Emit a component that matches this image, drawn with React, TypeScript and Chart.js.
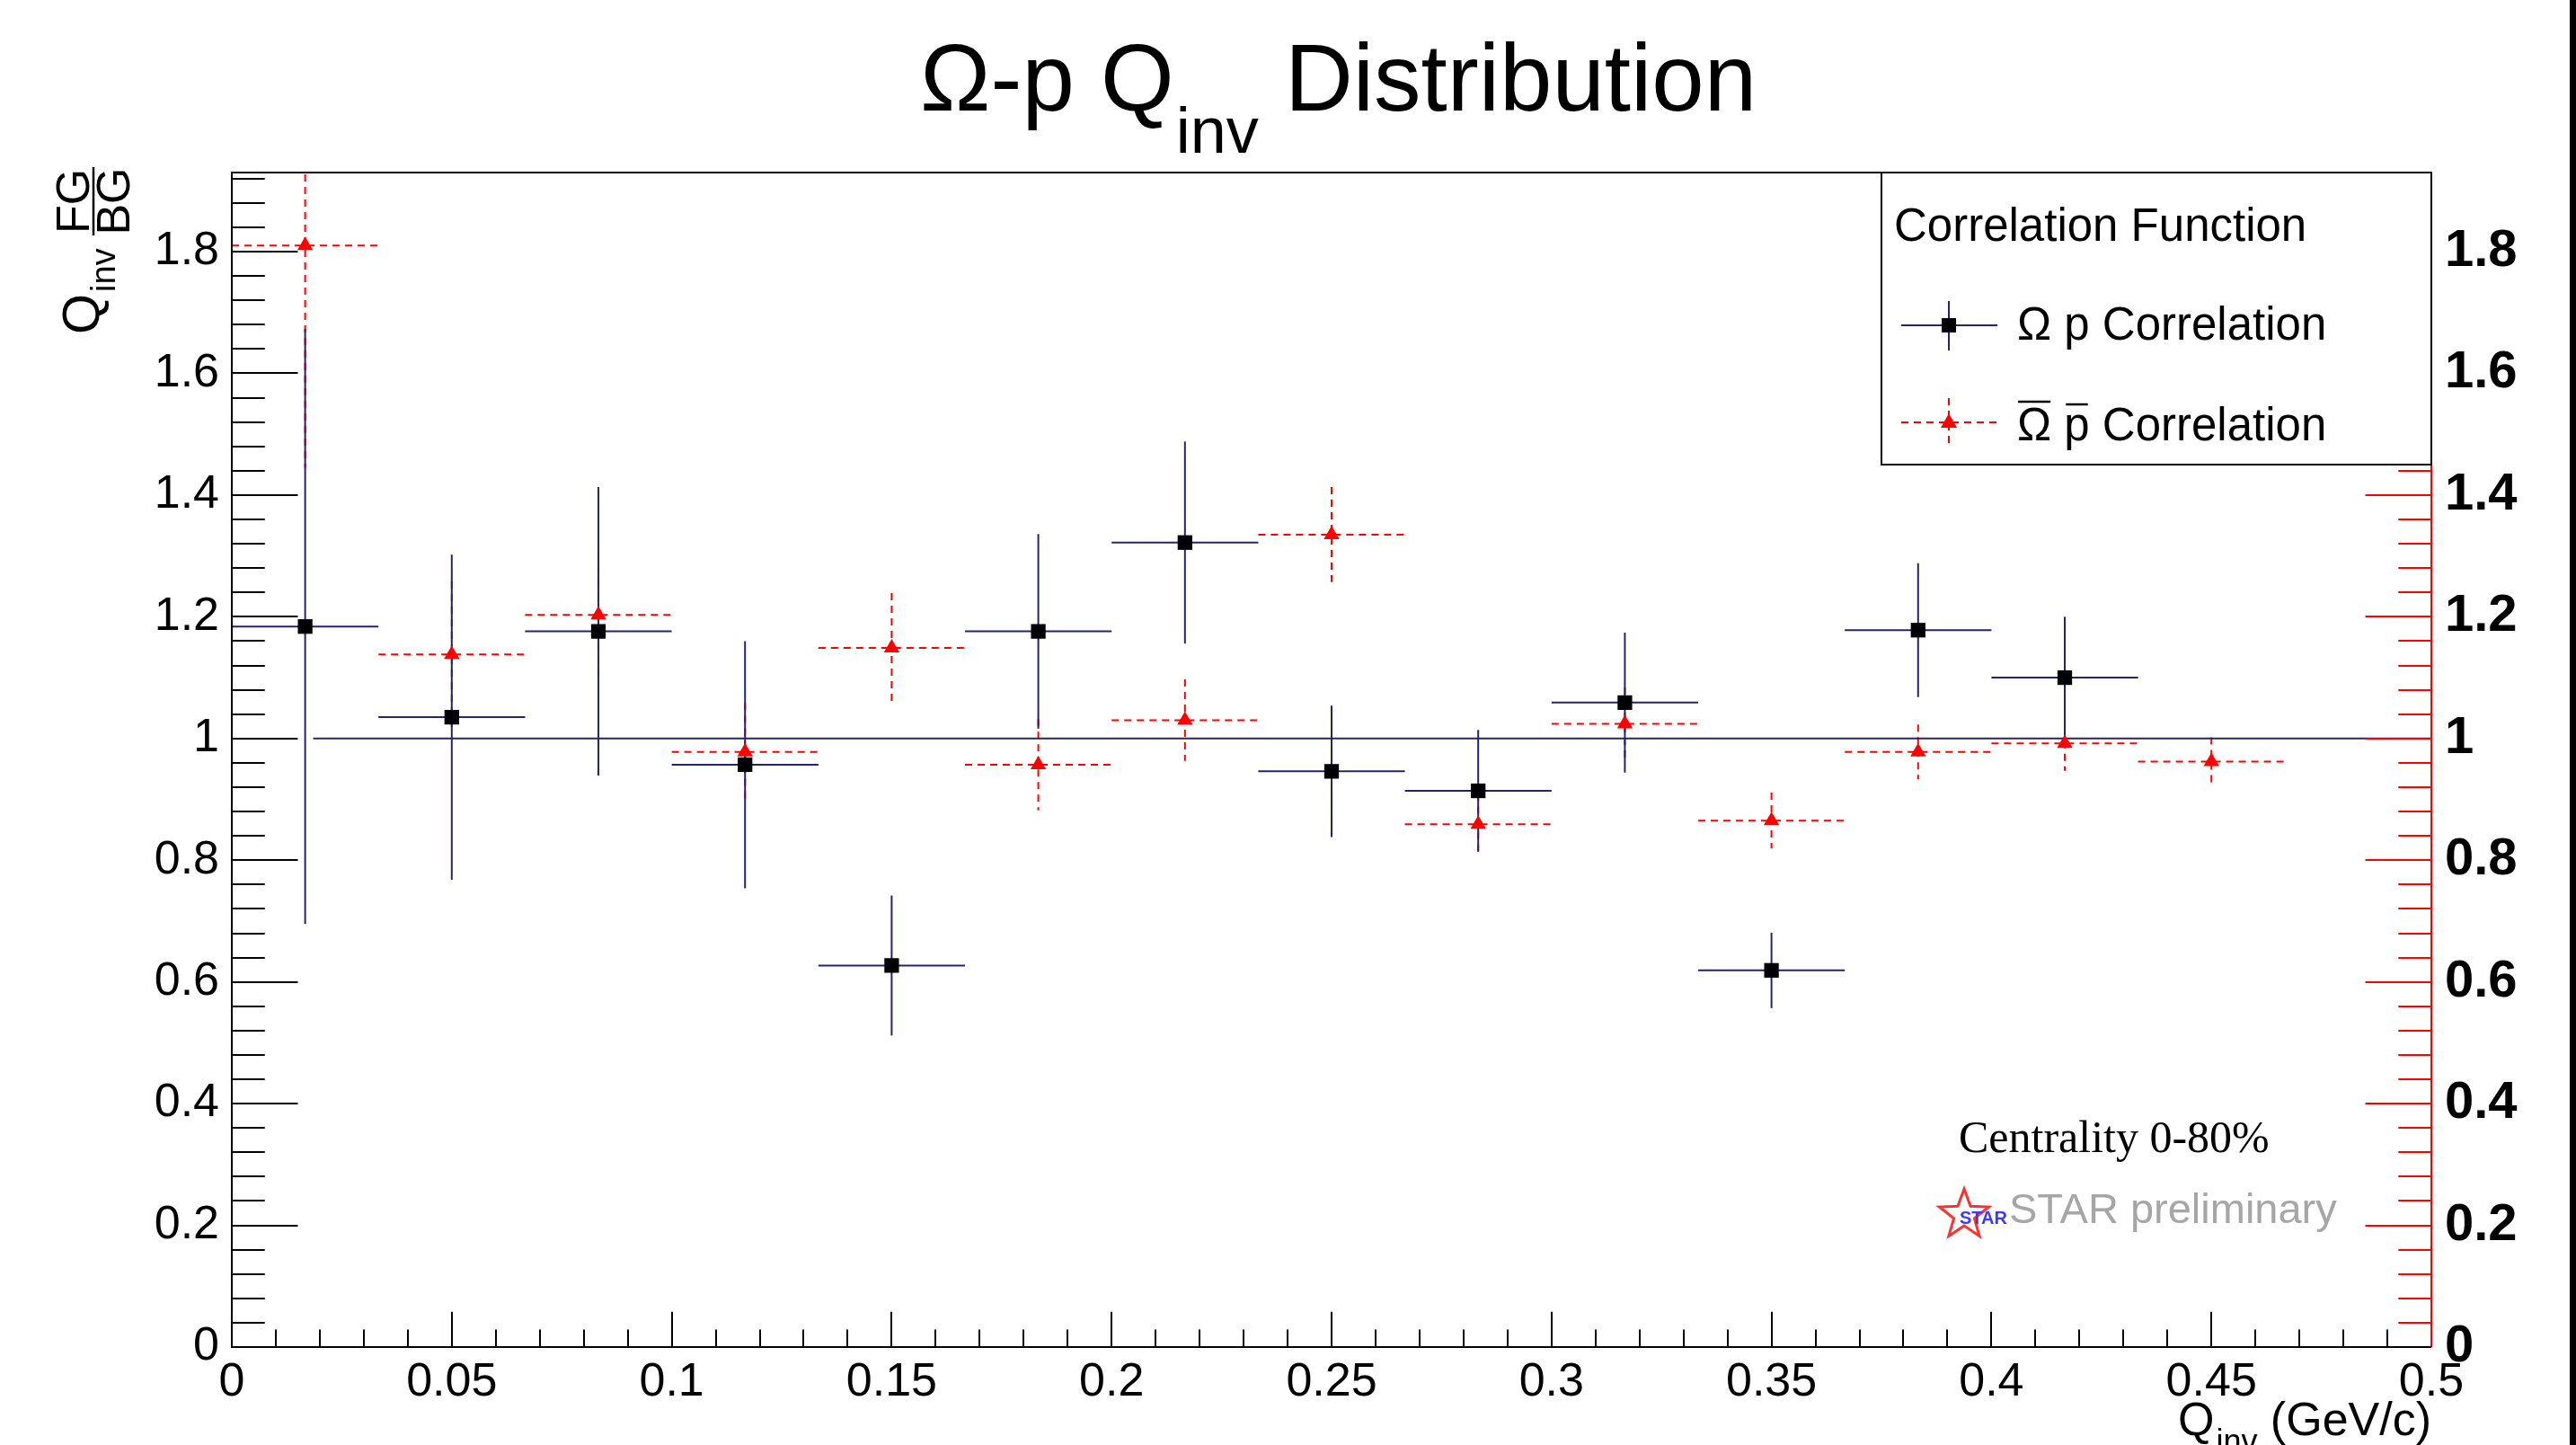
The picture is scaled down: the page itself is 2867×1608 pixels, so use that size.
import React, { useEffect, useRef } from "react";
import { Chart, registerables } from "chart.js";

Chart.register(...registerables);

// ---- data ----
const binCentersOmegaP = [0.01667, 0.05, 0.08333, 0.11667, 0.15, 0.18333, 0.21667, 0.25, 0.28333, 0.31667, 0.35, 0.38333, 0.41667];
const omegaPValues = [1.184, 1.035, 1.176, 0.957, 0.627, 1.176, 1.322, 0.946, 0.914, 1.059, 0.619, 1.178, 1.1];
const omegaPErrors = [0.489, 0.267, 0.237, 0.203, 0.115, 0.16, 0.166, 0.108, 0.1, 0.115, 0.062, 0.11, 0.1];

const binCentersAnti = [0.01667, 0.05, 0.08333, 0.11667, 0.15, 0.18333, 0.21667, 0.25, 0.28333, 0.31667, 0.35, 0.38333, 0.41667, 0.45];
const antiValues = [1.81, 1.138, 1.203, 0.978, 1.149, 0.957, 1.03, 1.335, 0.859, 1.024, 0.865, 0.978, 0.992, 0.962];
const antiErrors = [0.365, 0.12, 0.1, 0.08, 0.09, 0.075, 0.067, 0.078, 0.05, 0.06, 0.046, 0.045, 0.045, 0.04];

const binHalfWidth = 0.016667;
const baselineX = [0.0185, 0.5];
const baselineY = [1, 1];

const xMin = 0, xMax = 0.5, xStep = 0.05, xMinorStep = 0.01;
const yMin = 0, yMax = 1.93, yStep = 0.2, yMinorStep = 0.04;

const NAVY = "#24246e";
const RED = "#ff0000";
const SANS = '"Liberation Sans", Arial, Helvetica, sans-serif';
const SERIF = '"Liberation Serif", "Times New Roman", serif';

const W = 2867, H = 1608;
const PLOT_LEFT = 258, PLOT_RIGHT = 2706, PLOT_TOP = 192, PLOT_BOTTOM = 1499;

const fmt = (v: number) => String(parseFloat(Number(v).toFixed(3)));

const errorBarPlugin = {
  id: "errorBars",
  beforeDatasetsDraw(chart: any) {
    const { ctx, chartArea, scales } = chart;
    const x = scales.x, y = scales.y;
    ctx.save();
    ctx.beginPath();
    ctx.rect(chartArea.left, chartArea.top, chartArea.right - chartArea.left, chartArea.bottom - chartArea.top);
    ctx.clip();
    chart.data.datasets.forEach((ds: any) => {
      if (!ds.errors) return;
      ctx.strokeStyle = ds.errColor;
      ctx.lineWidth = 2;
      ctx.setLineDash(ds.errDash || []);
      ds.data.forEach((p: any, j: number) => {
        const e = ds.errors[j];
        const px = x.getPixelForValue(p.x);
        const py = y.getPixelForValue(p.y);
        const xl = x.getPixelForValue(p.x - binHalfWidth);
        const xr = x.getPixelForValue(p.x + binHalfWidth);
        const yt = y.getPixelForValue(p.y + e);
        const yb = y.getPixelForValue(p.y - e);
        ctx.beginPath();
        ctx.moveTo(xl, py);
        ctx.lineTo(xr, py);
        ctx.stroke();
        ctx.beginPath();
        ctx.moveTo(px, yt);
        ctx.lineTo(px, yb);
        ctx.stroke();
      });
    });
    ctx.restore();
  },
};

const framePlugin = {
  id: "frameDecor",
  afterDatasetsDraw(chart: any) {
    const { ctx, chartArea, scales } = chart;
    const x = scales.x, y = scales.y;
    const { left, right, top, bottom } = chartArea;
    const plotW = right - left, plotH = bottom - top;
    const yMajorLen = 0.03 * plotW, yMinorLen = yMajorLen / 2;
    const xMajorLen = 0.03 * plotH, xMinorLen = xMajorLen / 2;
    ctx.save();
    ctx.lineWidth = 2;
    ctx.setLineDash([]);
    // left ticks
    ctx.strokeStyle = "#000";
    const nY = Math.round((yMax - yMin) / yMinorStep);
    for (let i = 0; i <= nY; i++) {
      const v = yMin + i * yMinorStep;
      if (v > yMax) break;
      const py = Math.round(y.getPixelForValue(v)) + 0.0;
      const major = i % 5 === 0;
      ctx.beginPath();
      ctx.moveTo(left, py);
      ctx.lineTo(left + (major ? yMajorLen : yMinorLen), py);
      ctx.stroke();
    }
    // bottom ticks
    const nX = Math.round((xMax - xMin) / xMinorStep);
    for (let i = 0; i <= nX; i++) {
      const v = xMin + i * xMinorStep;
      const px = Math.round(x.getPixelForValue(v));
      const major = i % 5 === 0;
      ctx.beginPath();
      ctx.moveTo(px, bottom);
      ctx.lineTo(px, bottom - (major ? xMajorLen : xMinorLen));
      ctx.stroke();
    }
    // right ticks (red)
    ctx.strokeStyle = RED;
    for (let i = 0; i <= nY; i++) {
      const v = yMin + i * yMinorStep;
      if (v > yMax) break;
      const py = Math.round(y.getPixelForValue(v));
      const major = i % 5 === 0;
      ctx.beginPath();
      ctx.moveTo(right, py);
      ctx.lineTo(right - (major ? yMajorLen : yMinorLen), py);
      ctx.stroke();
    }
    ctx.beginPath();
    ctx.moveTo(right, top);
    ctx.lineTo(right, bottom);
    ctx.stroke();
    // frame black
    ctx.strokeStyle = "#000";
    ctx.beginPath();
    ctx.moveTo(right, top);
    ctx.lineTo(left, top);
    ctx.lineTo(left, bottom);
    ctx.lineTo(right, bottom);
    ctx.stroke();
    ctx.restore();
  },
  afterDraw(chart: any) {
    const { ctx } = chart;
    ctx.save();
    ctx.setLineDash([]);
    ctx.fillStyle = "#000";
    ctx.textBaseline = "alphabetic";
    ctx.textAlign = "left";

    // ---- title ----
    ctx.font = `105px ${SANS}`;
    const t1 = "\u03A9-p Q";
    const x0 = 1024;
    ctx.fillText(t1, x0, 123);
    const w1 = ctx.measureText(t1).width;
    ctx.font = `72px ${SANS}`;
    ctx.fillText("inv", x0 + w1 + 2, 170);
    const wSub = ctx.measureText("inv").width;
    ctx.font = `105px ${SANS}`;
    ctx.fillText(" Distribution", x0 + w1 + 2 + wSub, 123);

    // ---- y axis title (rotated) ----
    ctx.save();
    ctx.rotate(-Math.PI / 2);
    // local (lx, ly) -> screen (ly, -lx)
    ctx.font = `58px ${SANS}`;
    ctx.textAlign = "left";
    ctx.fillText("Q", -372, 110);
    const wq = ctx.measureText("Q").width;
    ctx.font = `38px ${SANS}`;
    ctx.fillText("inv", -372 + wq + 2, 128);
    ctx.font = `52px ${SANS}`;
    ctx.textAlign = "center";
    ctx.fillText("FG", -224, 99);
    ctx.fillText("BG", -224, 144);
    ctx.lineWidth = 2.5;
    ctx.strokeStyle = "#000";
    ctx.beginPath();
    ctx.moveTo(-262, 104);
    ctx.lineTo(-186, 104);
    ctx.stroke();
    ctx.restore();

    // ---- x axis title ----
    ctx.textAlign = "left";
    ctx.font = `52px ${SANS}`;
    const wQ = ctx.measureText("Q").width;
    const wRest = ctx.measureText(" (GeV/c)").width;
    ctx.font = `36px ${SANS}`;
    const wInv = ctx.measureText("inv").width;
    const startX = PLOT_RIGHT - (wQ + wInv + 2 + wRest);
    ctx.font = `52px ${SANS}`;
    ctx.fillText("Q", startX, 1597);
    ctx.font = `36px ${SANS}`;
    ctx.fillText("inv", startX + wQ + 2, 1616);
    ctx.font = `52px ${SANS}`;
    ctx.fillText(" (GeV/c)", startX + wQ + 2 + wInv, 1597);

    // ---- legend ----
    const lx = 2094, ly = 192, lw = PLOT_RIGHT - 2094, lh = 325;
    ctx.fillStyle = "#fff";
    ctx.fillRect(lx, ly, lw, lh);
    ctx.strokeStyle = "#000";
    ctx.lineWidth = 2;
    ctx.strokeRect(lx, ly, lw, lh);
    ctx.fillStyle = "#000";
    ctx.font = `51px ${SANS}`;
    ctx.textBaseline = "middle";
    ctx.fillText("Correlation Function", 2108, 254);

    // entry 1
    ctx.strokeStyle = NAVY;
    ctx.lineWidth = 2;
    ctx.beginPath();
    ctx.moveTo(2116, 362); ctx.lineTo(2223, 362);
    ctx.moveTo(2169, 335); ctx.lineTo(2169, 390);
    ctx.stroke();
    ctx.fillStyle = "#000";
    ctx.fillRect(2161, 354, 16, 16);
    ctx.fillText("\u03A9 p Correlation", 2245, 364);

    // entry 2
    ctx.strokeStyle = RED;
    ctx.setLineDash([8, 6]);
    ctx.beginPath();
    ctx.moveTo(2116, 470); ctx.lineTo(2223, 470);
    ctx.moveTo(2169, 443); ctx.lineTo(2169, 498);
    ctx.stroke();
    ctx.setLineDash([]);
    ctx.fillStyle = RED;
    ctx.beginPath();
    ctx.moveTo(2169, 460); ctx.lineTo(2178, 476); ctx.lineTo(2160, 476); ctx.closePath();
    ctx.fill();
    ctx.fillStyle = "#000";
    ctx.textBaseline = "alphabetic";
    const base2 = 490;
    let cx = 2245;
    const wOm = ctx.measureText("\u03A9").width;
    ctx.fillText("\u03A9", cx, base2);
    ctx.strokeStyle = "#000";
    ctx.lineWidth = 2.5;
    ctx.beginPath();
    ctx.moveTo(cx + 1, base2 - 43); ctx.lineTo(cx + wOm - 1, base2 - 43);
    ctx.stroke();
    cx += wOm + ctx.measureText(" ").width;
    const wp = ctx.measureText("p").width;
    ctx.fillText("p", cx, base2);
    ctx.beginPath();
    ctx.moveTo(cx + 2, base2 - 40); ctx.lineTo(cx + wp - 2, base2 - 40);
    ctx.stroke();
    cx += wp;
    ctx.fillText(" Correlation", cx, base2);

    // ---- annotations ----
    ctx.textBaseline = "middle";
    ctx.fillStyle = "#000";
    ctx.font = `50px ${SERIF}`;
    ctx.fillText("Centrality 0-80%", 2180, 1269);

    // STAR logo star
    const sx = 2186, sy = 1352, rO = 29, rI = 12;
    ctx.strokeStyle = "#ff3030";
    ctx.lineWidth = 3;
    ctx.beginPath();
    for (let k = 0; k < 10; k++) {
      const r = k % 2 === 0 ? rO : rI;
      const a = -Math.PI / 2 + (k * Math.PI) / 5;
      const px = sx + r * Math.cos(a), py = sy + r * Math.sin(a);
      if (k === 0) ctx.moveTo(px, py); else ctx.lineTo(px, py);
    }
    ctx.closePath();
    ctx.stroke();
    ctx.fillStyle = "#3a3aff";
    ctx.font = `bold 20px ${SANS}`;
    ctx.fillText("STAR", 2181, 1356);

    ctx.fillStyle = "#a6a6a6";
    ctx.font = `47px ${SANS}`;
    ctx.fillText("STAR preliminary", 2236, 1348);

    // black edge strip
    ctx.fillStyle = "#000";
    ctx.fillRect(2860, 0, 7, H);
    ctx.restore();
  },
};

export default function App() {
  const canvasRef = useRef<HTMLCanvasElement | null>(null);

  useEffect(() => {
    document.body.style.margin = "0";
    const canvas = canvasRef.current;
    if (!canvas) return;
    const chart = new Chart(canvas, {
      type: "scatter",
      data: {
        datasets: [
          {
            label: "anti",
            data: binCentersAnti.map((x, i) => ({ x, y: antiValues[i] })),
            errors: antiErrors,
            errColor: RED,
            errDash: [8, 6],
            pointStyle: "triangle",
            pointRadius: 10,
            pointBackgroundColor: RED,
            pointBorderColor: RED,
            pointBorderWidth: 0,
            showLine: false,
            order: 1,
          } as any,
          {
            label: "omegap",
            data: binCentersOmegaP.map((x, i) => ({ x, y: omegaPValues[i] })),
            errors: omegaPErrors,
            errColor: NAVY,
            pointStyle: "rect",
            pointRadius: 11.5,
            pointBackgroundColor: "#000",
            pointBorderColor: "#000",
            pointBorderWidth: 0,
            showLine: false,
            order: 2,
          } as any,
          {
            label: "baseline",
            data: baselineX.map((x, i) => ({ x, y: baselineY[i] })),
            showLine: true,
            borderColor: NAVY,
            borderWidth: 2,
            pointRadius: 0,
            order: 3,
          } as any,
        ],
      },
      options: {
        responsive: false,
        animation: false,
        devicePixelRatio: 1,
        events: [],
        layout: { padding: { top: PLOT_TOP, left: 0, right: 0, bottom: 0 } },
        plugins: { legend: { display: false }, title: { display: false }, tooltip: { enabled: false } },
        scales: {
          x: {
            type: "linear",
            position: "bottom",
            min: xMin,
            max: xMax,
            grid: { display: false, drawTicks: false },
            border: { display: false },
            ticks: {
              stepSize: xStep,
              includeBounds: false,
              autoSkip: false,
              maxRotation: 0,
              padding: 8,
              color: "#000",
              font: { family: SANS, size: 52 },
              callback: (v: any) => fmt(v),
            },
            afterFit: (s: any) => { s.height = H - PLOT_BOTTOM; },
          },
          y: {
            type: "linear",
            position: "left",
            min: yMin,
            max: yMax,
            grid: { display: false, drawTicks: false },
            border: { display: false },
            ticks: {
              stepSize: yStep,
              includeBounds: false,
              autoSkip: false,
              padding: 14,
              color: "#000",
              font: { family: SANS, size: 52 },
              callback: (v: any) => fmt(v),
            },
            afterFit: (s: any) => { s.width = PLOT_LEFT; },
          },
          y2: {
            type: "linear",
            position: "right",
            min: yMin,
            max: yMax,
            grid: { display: false, drawTicks: false },
            border: { display: false },
            ticks: {
              stepSize: yStep,
              includeBounds: false,
              autoSkip: false,
              padding: 15,
              color: "#000",
              font: { family: SANS, size: 58, weight: "bold" },
              callback: (v: any) => fmt(v),
            },
            afterFit: (s: any) => { s.width = W - PLOT_RIGHT; },
          },
        },
      } as any,
      plugins: [errorBarPlugin, framePlugin],
    });
    return () => chart.destroy();
  }, []);

  return (
    <div style={{ position: "fixed", left: 0, top: 0, width: W, height: H, background: "#fff" }}>
      <canvas ref={canvasRef} width={W} height={H} style={{ display: "block", width: W, height: H }} />
    </div>
  );
}
